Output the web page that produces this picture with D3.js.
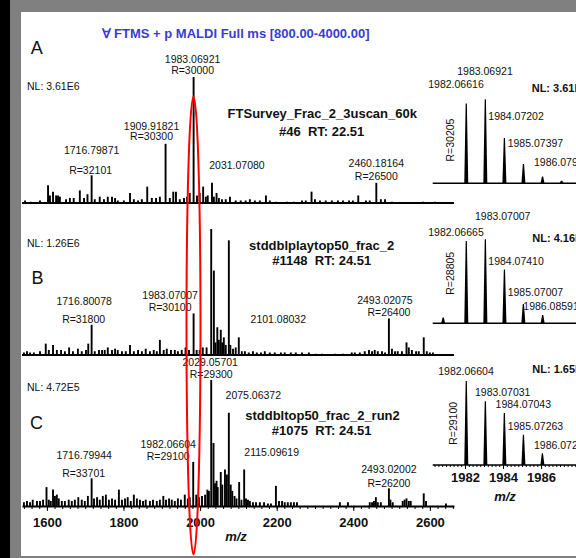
<!DOCTYPE html>
<html>
<head>
<meta charset="utf-8">
<script src="https://cdn.jsdelivr.net/npm/d3@7"></script>
<style>
  body { margin: 0; background: #808080; }
  text { font-family: "Liberation Sans", Arial, sans-serif; white-space: pre; }
</style>
</head>
<body>
<script>
const w = 576;
const h = 558;

// full spectra: [m/z, relative intensity %]
const spectrumA = [
  [1543, 2], [1558, 1], [1582, 2], [1603, 14], [1608, 6], [1616, 9], [1624, 6], [1629, 6], [1634, 5],
  [1650, 3], [1660, 4], [1670, 4], [1686, 10], [1697, 4], [1706, 7], [1716.8, 22], [1725, 3], [1738, 5],
  [1749, 3], [1759, 5], [1770, 5], [1778, 4], [1785, 2], [1801, 2], [1817, 8], [1827, 3], [1838, 2],
  [1848, 3], [1862, 13], [1874, 4], [1885, 4], [1895, 5], [1909.9, 47], [1921, 4], [1930, 9], [1937, 9],
  [1947, 3], [1958, 4], [1966, 5], [1973, 8], [1983.07, 100], [1992, 6], [1999, 8], [2008, 13], [2015, 5],
  [2020, 6], [2031.07, 16], [2036, 5], [2043, 8], [2049, 4], [2057, 3], [2067, 3], [2078, 5], [2093, 2],
  [2106, 2], [2119, 2], [2130, 3], [2143, 2], [2156, 2], [2172, 6], [2182, 2], [2198, 1], [2227, 1],
  [2245, 1], [2266, 2], [2276, 2], [2291, 9], [2300, 3], [2313, 2], [2328, 2], [2344, 2], [2360, 2],
  [2373, 2], [2389, 2], [2399, 2], [2413, 6], [2433, 2], [2443, 2], [2460.18, 16], [2472, 3], [2483, 3],
  [2501, 1], [2582, 1], [2613, 1]
];

const spectrumB = [
  [1540, 2], [1548, 3], [1556, 2], [1566, 2], [1582, 3], [1597, 9], [1605, 4], [1616, 8], [1626, 4],
  [1637, 4], [1647, 3], [1658, 6], [1668, 3], [1681, 5], [1691, 3], [1702, 4], [1708, 9], [1716.8, 24],
  [1725, 3], [1736, 4], [1744, 4], [1751, 4], [1759, 6], [1770, 4], [1778, 5], [1785, 4], [1796, 3],
  [1806, 3], [1817, 8], [1827, 3], [1838, 4], [1848, 3], [1858, 5], [1869, 3], [1879, 4], [1887, 3],
  [1895, 12], [1905, 4], [1913, 5], [1924, 4], [1934, 4], [1942, 3], [1952, 4], [1962, 6], [1971, 4],
  [1983.07, 33], [1991, 4], [1999, 4], [2007, 6], [2017, 6], [2029.06, 100], [2036, 67], [2040, 10],
  [2045, 22], [2049, 12], [2054, 20], [2058, 10], [2062, 14], [2067, 8], [2075.06, 91], [2079, 8],
  [2086, 5], [2093, 6], [2101.08, 14], [2109, 3], [2117, 3], [2127, 2], [2138, 3], [2148, 2], [2159, 2],
  [2169, 3], [2182, 2], [2195, 2], [2211, 2], [2221, 2], [2237, 2], [2250, 2], [2266, 2], [2284, 2],
  [2302, 1], [2318, 1], [2352, 1], [2373, 1], [2396, 2], [2404, 2], [2417, 2], [2430, 3], [2441, 4],
  [2449, 3], [2456, 4], [2464, 3], [2475, 3], [2483, 2], [2493.02, 29], [2501, 5], [2509, 3], [2516, 3],
  [2527, 3], [2539, 10], [2545, 6], [2553, 4], [2564, 3], [2571, 3], [2584, 14], [2592, 3], [2600, 2],
  [2608, 2]
];

const spectrumC = [
  [1540, 3], [1548, 4], [1556, 3], [1563, 5], [1574, 4], [1582, 4], [1590, 5], [1599, 15], [1605, 5],
  [1610, 4], [1616, 13], [1621, 8], [1626, 9], [1631, 6], [1639, 4], [1647, 4], [1657, 5], [1665, 4],
  [1673, 5], [1682, 7], [1691, 5], [1699, 4], [1707, 8], [1716.8, 22], [1723, 6], [1731, 7], [1738, 5],
  [1746, 8], [1754, 9], [1762, 5], [1770, 6], [1778, 5], [1788, 13], [1796, 5], [1804, 6], [1811, 7],
  [1819, 4], [1827, 9], [1835, 6], [1843, 5], [1851, 4], [1858, 5], [1869, 4], [1877, 5], [1887, 4],
  [1895, 5], [1904, 8], [1911, 5], [1919, 6], [1926, 5], [1934, 4], [1942, 6], [1950, 5], [1960, 9],
  [1968, 6], [1973, 7], [1982.07, 35], [1990, 9], [1997, 7], [2005, 8], [2013, 9], [2019, 13], [2023, 12],
  [2029.06, 100], [2035, 50], [2039, 18], [2043, 20], [2046, 15], [2054, 27], [2058, 17], [2065, 29],
  [2070, 25], [2075.06, 74], [2080, 17], [2084, 12], [2090, 8], [2095, 6], [2102, 19], [2108, 5],
  [2115.1, 29], [2120, 6], [2125, 5], [2130, 4], [2138, 3], [2146, 3], [2156, 3], [2167, 3], [2177, 2],
  [2185, 2], [2198, 16], [2206, 4], [2214, 4], [2221, 3], [2229, 3], [2237, 3], [2245, 3], [2253, 3],
  [2365, 3], [2386, 3], [2443, 3], [2449, 3], [2454, 4], [2459, 7], [2464, 3], [2472, 3], [2493.02, 14],
  [2497, 5], [2503, 3], [2529, 4], [2534, 5], [2539, 6], [2545, 4], [2550, 4], [2584, 10], [2590, 4],
  [2642, 2]
];

// isotope zooms
const isotopeA = [[1982.066, 95], [1983.069, 100], [1984.072, 54], [1985.074, 23], [1986.079, 8], [1987.08, 3]];
const isotopeB = [[1980.85, 7], [1982.067, 98], [1983.070, 100], [1984.074, 64], [1985.070, 23], [1986.086, 10]];
const isotopeC = [[1982.066, 100], [1983.070, 76], [1984.070, 62], [1985.073, 36], [1986.072, 14]];

const mainTicks = [1600, 1800, 2000, 2200, 2400, 2600];
const isoTicks = [1982, 1984, 1986];

const svg = d3.select('body')
  .append('svg')
  .attr('width', w)
  .attr('height', h)
  .style('display', 'block');

// frame
svg.append('rect').attr('width', w).attr('height', h).attr('fill', '#808080');
svg.append('rect').attr('width', 10).attr('height', h).attr('fill', '#000');
svg.append('rect').attr('x', 21).attr('y', 12).attr('width', w - 21).attr('height', 544).attr('fill', '#fff');

const x = d3.scaleLinear().domain([1535, 2663]).range([22, 454]);
const xi = d3.scaleLinear().domain([1980.3, 1988.05]).range([432.7, 580]);

function txt(s, tx, ty, opt = {}) {
  const t = svg.append('text')
    .text(s)
    .attr('x', tx)
    .attr('y', ty)
    .attr('dy', '0.35em')
    .attr('text-anchor', opt.anchor || 'middle')
    .style('font-size', (opt.size || 10.5) + 'px')
    .style('font-weight', opt.bold ? 'bold' : 'normal')
    .style('fill', opt.color || '#111');
  if (opt.italic) t.style('font-style', 'italic');
  if (opt.rotate) t.attr('transform', `rotate(-90,${tx},${ty})`);
  return t;
}

function drawSpectrum(data, base) {
  const y = d3.scaleLinear().domain([0, 100]).range([base, base - 126]);
  svg.append('g')
    .selectAll('line')
    .data(data)
    .join('line')
    .attr('x1', d => x(d[0]))
    .attr('x2', d => x(d[0]))
    .attr('y1', y(0))
    .attr('y2', d => y(d[1]))
    .attr('stroke', '#000')
    .attr('stroke-width', 1.9);
}

function drawIsotopes(data, base) {
  const y = d3.scaleLinear().domain([0, 100]).range([base, base - 84]);
  svg.append('line')
    .attr('x1', 432.7).attr('x2', w)
    .attr('y1', base).attr('y2', base)
    .attr('stroke', '#000').attr('stroke-width', 1.6);
  svg.append('g')
    .selectAll('path')
    .data(data)
    .join('path')
    .attr('d', d => {
      const cx = xi(d[0]);
      return `M${cx - 2},${y(0)}L${cx - 0.6},${y(d[1])}L${cx + 0.6},${y(d[1])}L${cx + 2},${y(0)}Z`;
    })
    .attr('fill', '#000');
}

// baselines of the first two panels
[203, 355].forEach(b => {
  svg.append('line')
    .attr('x1', 22).attr('x2', 454)
    .attr('y1', b).attr('y2', b)
    .attr('stroke', '#000').attr('stroke-width', 2);
});

drawSpectrum(spectrumA, 203);
drawSpectrum(spectrumB, 355);
drawSpectrum(spectrumC, 506);

drawIsotopes(isotopeA, 183.3);
drawIsotopes(isotopeB, 323.3);
drawIsotopes(isotopeC, 465);

// main axis (panel C)
const minor = svg.append('g').attr('transform', 'translate(0,506)')
  .call(d3.axisBottom(x).tickValues(d3.range(1540, 2661, 20)).tickSize(3).tickSizeOuter(0).tickFormat(''));
minor.select('.domain').attr('stroke-width', 2);
const major = svg.append('g').attr('transform', 'translate(0,506)')
  .call(d3.axisBottom(x).tickValues(mainTicks).tickSize(5).tickSizeOuter(0).tickPadding(6.5).tickFormat(d3.format('d')));
major.select('.domain').remove();
major.selectAll('text')
  .style('font-size', '13px')
  .style('font-weight', 'bold')
  .style('font-family', '"Liberation Sans", Arial, sans-serif')
  .attr('fill', '#111');
txt('m/z', 236, 536, { size: 13, bold: true, italic: true });

// isotope axis (panel C)
const iminor = svg.append('g').attr('transform', 'translate(0,465)')
  .call(d3.axisBottom(xi).tickValues(d3.range(1980.4, 1988, 0.2)).tickSize(2).tickSizeOuter(0).tickFormat(''));
iminor.select('.domain').remove();
const imajor = svg.append('g').attr('transform', 'translate(0,465)')
  .call(d3.axisBottom(xi).tickValues(isoTicks).tickSize(4).tickSizeOuter(0).tickPadding(3.5).tickFormat(d3.format('d')));
imajor.select('.domain').remove();
imajor.selectAll('text')
  .style('font-size', '13px')
  .style('font-weight', 'bold')
  .style('font-family', '"Liberation Sans", Arial, sans-serif')
  .attr('fill', '#111');
txt('m/z', 505, 496, { size: 13, bold: true, italic: true });

// title
txt('\u2200 FTMS + p MALDI Full ms [800.00-4000.00]', 235.5, 33, { size: 13, bold: true, color: '#3b3bd0' });

// panel letters and NL
txt('A', 36.7, 48, { size: 18 });
txt('B', 37.5, 278, { size: 18 });
txt('C', 36.5, 423, { size: 18 });
txt('NL: 3.61E6', 27, 86, { anchor: 'start' });
txt('NL: 1.26E6', 27, 243, { anchor: 'start' });
txt('NL: 4.72E5', 27, 387, { anchor: 'start' });

// panel A labels
txt('1983.06921', x(1983.07) - 1, 59.3);
txt('R=30000', x(1983.07) - 1, 70);
txt('1909.91821', x(1909.9) - 14, 126);
txt('R=30300', x(1909.9) - 14, 136.7);
txt('1716.79871', x(1716.8), 150.7);
txt('R=32101', x(1716.8) - 1, 170);
txt('2031.07080', x(2031.07) + 25, 165.7);
txt('2460.18164', x(2460.18), 163.3);
txt('R=26500', x(2460.18), 176.7);
txt('FTSurvey_Frac_2_3uscan_60k', 322.3, 113.3, { size: 13, bold: true });
txt('#46  RT: 22.51', 321.7, 131, { size: 13, bold: true });

// panel B labels
txt('1716.80078', x(1716.8) - 7.5, 301);
txt('R=31800', x(1716.8) - 8, 319);
txt('1983.07007', x(1983.07) - 23.5, 295.7);
txt('R=30100', x(1983.07) - 23.5, 307);
txt('2101.08032', x(2101.08) + 39.5, 319.3);
txt('2493.02075', x(2493.02) - 4, 300);
txt('R=26400', x(2493.02), 312.7);
txt('stddblplaytop50_frac_2', 321.7, 245, { size: 13, bold: true });
txt('#1148  RT: 24.51', 321.7, 260.7, { size: 13, bold: true });

// panel C labels
txt('2029.05701', x(2029.06) - 1, 362.7);
txt('R=29300', x(2029.06), 374);
txt('2075.06372', x(2075.06) + 24.5, 395);
txt('2115.09619', x(2115.1) + 27.5, 452.7);
txt('1716.79944', x(1716.8) - 7.5, 455.7);
txt('R=33701', x(1716.8) - 8, 473.3);
txt('1982.06604', x(1982.07) - 25, 444.3);
txt('R=29100', x(1982.07) - 25, 456.7);
txt('2493.02002', x(2493.02), 469);
txt('R=26200', x(2493.02), 483.3);
txt('stddbltop50_frac_2_run2', 322.5, 415, { size: 13, bold: true });
txt('#1075  RT: 24.51', 321.7, 430.7, { size: 13, bold: true });

// isotope labels A
txt('1983.06921', 485, 71);
txt('1982.06616', 456, 84);
txt('NL: 3.61E6', 531.7, 88.3, { anchor: 'start', size: 11, bold: true });
txt('R=30205', 450, 140, { rotate: true });
txt('1984.07202', 488.3, 116.3, { anchor: 'start' });
txt('1985.07397', 507.7, 143.3, { anchor: 'start' });
txt('1986.07950', 534, 162.3, { anchor: 'start' });

// isotope labels B
txt('1983.07007', 502.7, 216);
txt('1982.06665', 456, 232.3);
txt('NL: 4.16E5', 532.3, 238.3, { anchor: 'start', size: 11, bold: true });
txt('R=28805', 450, 273.3, { rotate: true });
txt('1984.07410', 488.3, 261, { anchor: 'start' });
txt('1985.07007', 507.7, 292.7, { anchor: 'start' });
txt('1986.08591', 523.3, 306.7, { anchor: 'start' });

// isotope labels C
txt('1982.06604', 466, 371);
txt('NL: 1.65E5', 532.3, 369.3, { anchor: 'start', size: 11, bold: true });
txt('1983.07031', 502.7, 392.3);
txt('1984.07043', 523.3, 404);
txt('1985.07263', 507.7, 426, { anchor: 'start' });
txt('1986.07245', 534, 445, { anchor: 'start' });
txt('R=29100', 453.3, 423.3, { rotate: true });

// red ellipse round the 1983 column
svg.append('ellipse')
  .attr('cx', 193.5).attr('cy', 325.5)
  .attr('rx', 7).attr('ry', 229)
  .attr('fill', 'none')
  .attr('stroke', '#f00')
  .attr('stroke-width', 2);
</script>
</body>
</html>
